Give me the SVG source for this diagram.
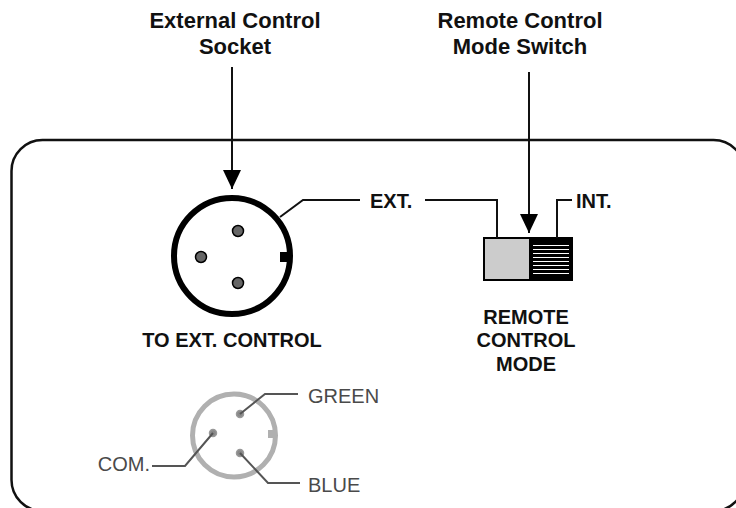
<svg xmlns="http://www.w3.org/2000/svg" width="736" height="508" viewBox="0 0 736 508">
<style>
.hd{font-family:"Liberation Sans",Arial,sans-serif;font-size:22px;font-weight:bold;fill:#111;text-anchor:middle}
.lb{font-family:"Liberation Sans",Arial,sans-serif;font-size:20px;font-weight:bold;fill:#111}
.gl{font-family:"Liberation Sans",Arial,sans-serif;font-size:20px;fill:#4a4a4a}
.ln{fill:none;stroke:#111;stroke-width:2}
.gln{fill:none;stroke:#555;stroke-width:2}
</style>
<defs>
<marker id="ah" markerWidth="19" markerHeight="18" refX="19" refY="9" orient="auto" markerUnits="userSpaceOnUse" viewBox="0 0 19 18">
<path d="M0,0 L19,9 L0,18 Z" fill="#000"/>
</marker>
</defs>
<rect width="736" height="508" fill="#fff"/>
<g id="panel">
<rect x="11.5" y="140" width="733" height="371" rx="31" ry="31" fill="none" stroke="#111" stroke-width="2.5"/>
</g>
<g id="label-socket">
<text class="hd" x="235" y="28">External Control</text>
<text class="hd" x="235" y="54">Socket</text>
</g>
<g id="label-switch">
<text class="hd" x="520" y="28">Remote Control</text>
<text class="hd" x="520" y="54">Mode Switch</text>
</g>
<g id="socket">
<circle cx="232" cy="256" r="58" fill="#fff" stroke="#000" stroke-width="6"/>
<rect x="280" y="252" width="10" height="10" fill="#000"/>
<circle cx="238" cy="231" r="5.5" fill="#666" stroke="#000" stroke-width="1.5"/>
<circle cx="201" cy="257" r="5.5" fill="#666" stroke="#000" stroke-width="1.5"/>
<circle cx="238" cy="283" r="5.5" fill="#666" stroke="#000" stroke-width="1.5"/>
<text class="lb" x="232" y="347" text-anchor="middle">TO EXT. CONTROL</text>
</g>
<g id="switch">
<rect x="484" y="238" width="46" height="42" fill="#ccc" stroke="#000" stroke-width="2"/>
<rect x="530" y="238" width="42" height="42" fill="#000" stroke="#000" stroke-width="2"/>
<g stroke="#fff" stroke-width="1">
<line x1="533" y1="245.5" x2="569" y2="245.5"/>
<line x1="533" y1="249.5" x2="569" y2="249.5"/>
<line x1="533" y1="253.5" x2="569" y2="253.5"/>
<line x1="533" y1="257.5" x2="569" y2="257.5"/>
<line x1="533" y1="261.5" x2="569" y2="261.5"/>
<line x1="533" y1="265.5" x2="569" y2="265.5"/>
<line x1="533" y1="269.5" x2="569" y2="269.5"/>
<line x1="533" y1="273.5" x2="569" y2="273.5"/>
</g>
<text class="lb" x="526" y="324" text-anchor="middle">REMOTE</text>
<text class="lb" x="526" y="347" text-anchor="middle">CONTROL</text>
<text class="lb" x="526" y="371" text-anchor="middle">MODE</text>
<text class="lb" x="370" y="208">EXT.</text>
<text class="lb" x="576" y="208">INT.</text>
</g>
<g id="wiring">
<circle cx="234" cy="435.5" r="41.5" fill="none" stroke="#b0b0b0" stroke-width="5"/>
<rect x="268" y="430" width="6" height="8" fill="#b0b0b0"/>
<circle cx="240" cy="414" r="3.5" fill="#888" stroke="#999" stroke-width="1.5"/>
<circle cx="213" cy="433" r="3.5" fill="#888" stroke="#999" stroke-width="1.5"/>
<circle cx="240" cy="453" r="3.5" fill="#888" stroke="#999" stroke-width="1.5"/>
<text class="gl" x="308" y="403">GREEN</text>
<text class="gl" x="150" y="471" text-anchor="end">COM.</text>
<text class="gl" x="308" y="492">BLUE</text>
</g>
<g id="connectors">
<line class="ln" x1="232" y1="67" x2="232" y2="189" marker-end="url(#ah)"/>
<line class="ln" x1="529" y1="72" x2="529" y2="233" marker-end="url(#ah)"/>
<polyline class="ln" points="280,217 303,200 360,200"/>
<polyline class="ln" points="425,200 497,200 497,238"/>
<polyline class="ln" points="557,238 557,200 572,200"/>
<polyline class="gln" points="240,414 265,394 298,394"/>
<polyline class="gln" points="213,433 185,466 152,466"/>
<polyline class="gln" points="240,453 268,483 300,483"/>
</g>
</svg>
